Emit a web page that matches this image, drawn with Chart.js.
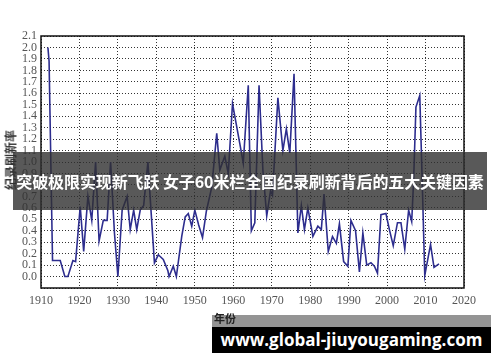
<!DOCTYPE html>
<html>
<head>
<meta charset="utf-8">
<script src="https://cdn.jsdelivr.net/npm/chart.js@4.4.1/dist/chart.umd.min.js"></script>
<style>
    html, body { margin: 0; padding: 0; background: #fff; }
    #wrap { position: relative; width: 500px; height: 362px; overflow: hidden; }
    #chart { position: absolute; left: 0; top: 0; }
    .ytitle {
        position: absolute; left: 10px; top: 160px;
        transform: translate(-50%, -50%) rotate(-90deg);
        font: bold 12px "Noto Sans CJK SC", sans-serif; color: #333; white-space: nowrap;
    }
    .band { position: absolute; left: 212px; top: 315px; width: 279px; height: 12px; background: rgba(0,0,0,0.42); }
    .xtitle { position: absolute; left: 214px; top: 310px; font: bold 11px "Noto Sans CJK SC", sans-serif; color: #222; }
    .banner {
        position: absolute; left: 13px; top: 152px; width: 474px; height: 58px;
        background: rgba(48,48,48,0.8); color: #fff;
        font: bold 16px "Noto Sans CJK SC", sans-serif; line-height: 58px;
        text-align: center; white-space: nowrap; letter-spacing: -0.1px;
    }
    .mark {
        position: absolute; left: 212px; top: 327px; width: 279px; height: 26px;
        background: #000; color: #fff; font: bold 17px "Open Sans", sans-serif;
        line-height: 26px; text-align: center; white-space: nowrap;
    }
</style>
</head>
<body>
<div id="wrap">
    <canvas id="chart" width="500" height="362"></canvas>
    <div class="ytitle">纪录刷新率</div>
    <div class="band"></div>
    <div class="xtitle">年份</div>
    <div class="banner">突破极限实现新飞跃 女子60米栏全国纪录刷新背后的五大关键因素</div>
    <div class="mark">www.global-jiuyougaming.com</div>
</div>
<script>
const anos = [
    1911.8, 1912.1, 1913.0, 1915.0, 1916.2, 1917.0, 1918.3, 1919.0, 1920.2, 1921.1,
    1922.2, 1923.2, 1924.2, 1925.1, 1926.2, 1927.2, 1928.1, 1929.1, 1930.0, 1931.1,
    1932.4, 1933.2, 1934.1, 1934.9, 1935.8, 1936.7, 1937.8, 1938.6, 1939.5, 1940.5,
    1941.8, 1943.0, 1943.3, 1944.4, 1945.2, 1946.6, 1947.5, 1948.3, 1949.2, 1950.0,
    1951.0, 1952.0, 1953.0, 1954.4, 1955.7, 1956.5, 1957.8, 1958.7, 1959.8, 1961.7,
    1962.6, 1963.9, 1964.7, 1965.6, 1966.7, 1967.7, 1968.7, 1969.7, 1970.2, 1971.6,
    1972.9, 1973.8, 1974.7, 1975.8, 1976.8, 1977.7, 1978.5, 1979.4, 1980.7, 1982.0,
    1982.9, 1983.6, 1984.7, 1985.8, 1986.8, 1987.6, 1988.7, 1989.8, 1990.6, 1991.8,
    1992.8, 1993.7, 1994.7, 1995.8, 1996.7, 1997.5, 1998.4, 1999.7, 2000.6, 2001.6,
    2002.7, 2003.6, 2004.6, 2005.6, 2006.4, 2006.9, 2007.5, 2008.5, 2009.2, 2009.8,
    2011.3, 2012.2, 2013.5
];
const tasa = [
    2.00, 1.88, 0.14, 0.14, 0.00, 0.00, 0.14, 0.13, 0.61, 0.22,
    0.70, 0.49, 1.00, 0.31, 0.49, 0.49, 1.00, 0.38, 0.00, 0.58,
    0.70, 0.41, 0.58, 0.41, 0.58, 0.62, 1.00, 0.58, 0.12, 0.19,
    0.15, 0.05, 0.00, 0.09, 0.00, 0.35, 0.52, 0.55, 0.44, 0.58,
    0.45, 0.34, 0.57, 0.78, 1.25, 0.93, 1.05, 0.90, 1.51, 1.16,
    0.99, 1.67, 0.40, 0.47, 1.67, 0.93, 0.53, 0.75, 0.71, 1.56,
    1.10, 1.29, 1.08, 1.77, 0.38, 0.62, 0.41, 0.60, 0.35, 0.44,
    0.41, 0.72, 0.22, 0.35, 0.29, 0.46, 0.13, 0.09, 0.49, 0.40,
    0.04, 0.38, 0.10, 0.12, 0.09, 0.03, 0.54, 0.55, 0.41, 0.27,
    0.47, 0.47, 0.24, 0.58, 0.48, 0.84, 1.48, 1.58, 0.75, 0.01,
    0.28, 0.08, 0.11
];
const xTicks = [1910, 1920, 1930, 1940, 1950, 1960, 1970, 1980, 1990, 2000, 2010, 2020];

const marco = {
    id: 'marco',
    afterDraw(chart) {
        const { ctx, chartArea: a } = chart;
        ctx.save();
        ctx.strokeStyle = '#111';
        ctx.lineWidth = 1.5;
        ctx.strokeRect(a.left, a.top, a.right - a.left, a.bottom - a.top);
        ctx.restore();
    }
};

const tickFont = { family: '"Liberation Serif", serif', size: 12 };

new Chart(document.getElementById('chart').getContext('2d'), {
    type: 'line',
    data: {
        datasets: [{
            data: anos.map((a, i) => ({ x: a, y: tasa[i] })),
            borderColor: '#2d2d8e',
            borderWidth: 1.6,
            pointRadius: 0,
            tension: 0,
            fill: false
        }]
    },
    options: {
        responsive: false,
        animation: false,
        devicePixelRatio: 1,
        layout: { padding: { top: 36, right: 36, left: 0, bottom: 0 } },
        plugins: { legend: { display: false }, tooltip: { enabled: false } },
        scales: {
            x: {
                type: 'linear',
                min: 1910,
                max: 2020,
                afterBuildTicks: s => { s.ticks = xTicks.map(v => ({ value: v })); },
                afterFit: s => { s.height = 74; },
                ticks: { font: tickFont, color: '#555', padding: 6, maxRotation: 0, autoSkip: false, callback: v => v },
                grid: { color: '#333', lineWidth: 1, drawTicks: false },
                border: { display: false, dash: [1, 2] }
            },
            y: {
                min: -0.1,
                max: 2.1,
                afterFit: s => { s.width = 41; },
                ticks: {
                    stepSize: 0.1,
                    autoSkip: false,
                    font: tickFont,
                    color: '#555',
                    padding: 4,
                    callback: v => (v < -0.05 ? '' : Number(v).toFixed(1))
                },
                grid: { color: '#333', lineWidth: 1, drawTicks: false },
                border: { display: false, dash: [1, 2] }
            }
        }
    },
    plugins: [marco]
});
</script>
</body>
</html>
